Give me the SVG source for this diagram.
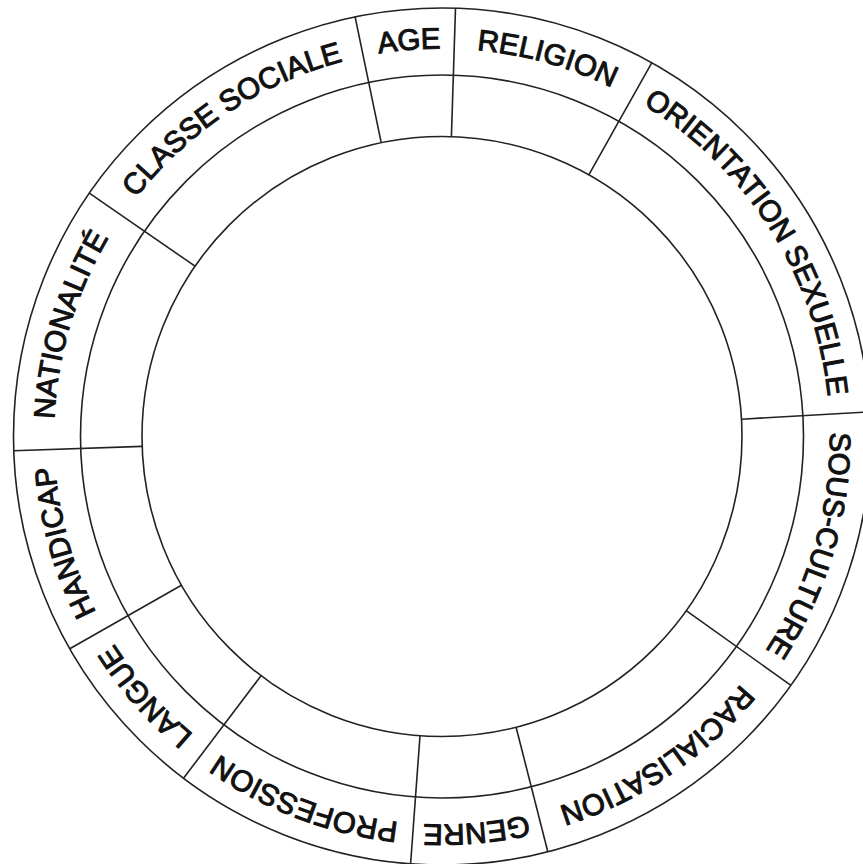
<svg xmlns="http://www.w3.org/2000/svg" xmlns:xlink="http://www.w3.org/1999/xlink" width="863" height="864" viewBox="0 0 863 864">
  <defs>
    <style>
      .ring { fill: none; stroke: #222; stroke-width: 1.6; }
      .div { stroke: #222; stroke-width: 1.6; fill: none; }
      .lbl { font-family: "Liberation Sans", Arial, sans-serif; font-size: 29.5px; fill: #111; stroke: #111; stroke-width: 1.05; stroke-linejoin: round; text-anchor: middle; }
    </style>
    <path id="track" d="M 442 48.5 A 388 388 0 1 1 442 824.5 A 388 388 0 1 1 442 48.5 A 388 388 0 1 1 442 824.5 A 388 388 0 1 1 442 48.5"/>
  </defs>
  <rect width="863" height="864" fill="#fff"/>
  <g id="rings">
    <circle class="ring" cx="442" cy="436.5" r="428.5"/>
    <circle class="ring" cx="442" cy="436.5" r="361.5"/>
    <circle class="ring" cx="442" cy="436.5" r="300"/>
  </g>
  <g id="connectors">
    <line class="div" x1="381.2" y1="142.7" x2="355.1" y2="16.9"/>
    <line class="div" x1="451.4" y1="136.6" x2="455.5" y2="8.3"/>
    <line class="div" x1="588.8" y1="174.9" x2="651.7" y2="62.8"/>
    <line class="div" x1="741.5" y1="419.2" x2="869.8" y2="411.8"/>
    <line class="div" x1="686.2" y1="610.7" x2="790.9" y2="685.3"/>
    <line class="div" x1="516.1" y1="727.2" x2="547.8" y2="851.7"/>
    <line class="div" x1="420.0" y1="735.7" x2="410.6" y2="863.8"/>
    <line class="div" x1="261.0" y1="675.8" x2="183.5" y2="778.3"/>
    <line class="div" x1="181.4" y1="585.2" x2="69.8" y2="648.8"/>
    <line class="div" x1="142.2" y1="446.4" x2="13.7" y2="450.7"/>
    <line class="div" x1="195.1" y1="266.2" x2="89.3" y2="193.2"/>
  </g>
  <g id="age"><text class="lbl"><textPath xlink:href="#track" href="#track" startOffset="2404.4">AGE</textPath></text></g>
  <g id="religion"><text class="lbl"><textPath xlink:href="#track" href="#track" startOffset="105.3">RELIGION</textPath></text></g>
  <g id="orientation-sexuelle"><text class="lbl"><textPath xlink:href="#track" href="#track" startOffset="390.1">ORIENTATION SEXUELLE</textPath></text></g>
  <g id="sous-culture"><text class="lbl"><textPath xlink:href="#track" href="#track" startOffset="720.5">SOUS-CULTURE</textPath></text></g>
  <g id="racialisation"><text class="lbl"><textPath xlink:href="#track" href="#track" startOffset="988.7">RACIALISATION</textPath></text></g>
  <g id="genre"><text class="lbl"><textPath xlink:href="#track" href="#track" startOffset="1184.7">GENRE</textPath></text></g>
  <g id="profession"><text class="lbl"><textPath xlink:href="#track" href="#track" startOffset="1358.8">PROFESSION</textPath></text></g>
  <g id="langue"><text class="lbl"><textPath xlink:href="#track" href="#track" startOffset="1548.7">LANGUE</textPath></text></g>
  <g id="handicap"><text class="lbl"><textPath xlink:href="#track" href="#track" startOffset="1721.4">HANDICAP</textPath></text></g>
  <g id="nationalite"><text class="lbl"><textPath xlink:href="#track" href="#track" startOffset="1940.8">NATIONALITÉ</textPath></text></g>
  <g id="classe-sociale"><text class="lbl"><textPath xlink:href="#track" href="#track" startOffset="2210.7">CLASSE SOCIALE</textPath></text></g>
</svg>
